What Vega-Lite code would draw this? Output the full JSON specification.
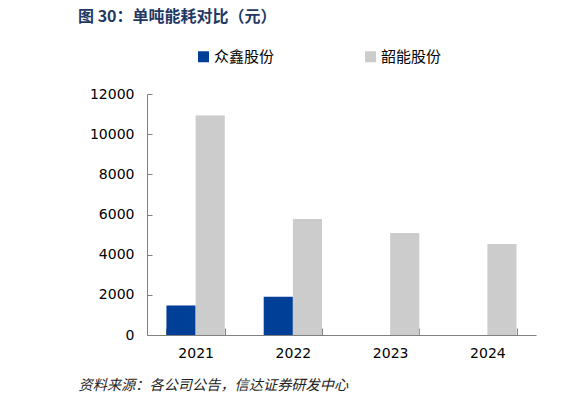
{
  "$schema": "https://vega.github.io/schema/vega-lite/v6.json",
  "background": "white",
  "autosize": {"type": "none"},
  "width": 389,
  "height": 241,
  "padding": {"left": 147, "top": 94, "right": 46, "bottom": 70},
  "config": {
    "view": {"stroke": null},
    "font": "Noto Sans CJK SC"
  },
  "title": {
    "text": "图 30：单吨能耗对比（元）",
    "anchor": "start",
    "frame": "group",
    "dx": -69,
    "dy": -20,
    "fontSize": 16,
    "fontWeight": "bold",
    "color": "#1F3864",
    "font": "Noto Sans CJK SC"
  },
  "data": {
    "values": [
      {"year": "2021", "company": "众鑫股份", "cost": 1470},
      {"year": "2021", "company": "韶能股份", "cost": 10930},
      {"year": "2022", "company": "众鑫股份", "cost": 1900},
      {"year": "2022", "company": "韶能股份", "cost": 5780},
      {"year": "2023", "company": "韶能股份", "cost": 5080},
      {"year": "2024", "company": "韶能股份", "cost": 4530}
    ]
  },
  "mark": {"type": "bar"},
  "encoding": {
    "x": {
      "field": "year",
      "type": "nominal",
      "scale": {"domain": ["2021", "2022", "2023", "2024"], "paddingInner": 0.4, "paddingOuter": 0.2},
      "axis": {
        "title": "资料来源：各公司公告，信达证券研发中心",
        "titleFont": "Noto Sans CJK SC",
        "titleFontStyle": "italic",
        "titleFontWeight": "normal",
        "titleFontSize": 14.2,
        "titleColor": "#222222",
        "titleAnchor": null,
        "titleAlign": "left",
        "titleX": -69,
        "titleY": 43,
        "labelAngle": 0,
        "labelFont": "DejaVu Sans",
        "labelFontSize": 14,
        "labelColor": "#000000",
        "labelPadding": 18,
        "tickBand": "extent",
        "tickSize": -7,
        "domainColor": "#808080",
        "tickColor": "#808080"
      }
    },
    "xOffset": {
      "field": "company",
      "type": "nominal",
      "scale": {"domain": ["众鑫股份", "韶能股份"], "paddingInner": 0, "paddingOuter": 0}
    },
    "y": {
      "field": "cost",
      "type": "quantitative",
      "scale": {"domain": [0, 12000], "nice": false},
      "axis": {
        "title": null,
        "values": [0, 2000, 4000, 6000, 8000, 10000, 12000],
        "format": "d",
        "grid": false,
        "labelFont": "DejaVu Sans",
        "labelFontSize": 14,
        "labelColor": "#000000",
        "labelPadding": 18,
        "tickSize": -5,
        "domainColor": "#808080",
        "tickColor": "#808080"
      }
    },
    "color": {
      "field": "company",
      "type": "nominal",
      "scale": {"domain": ["众鑫股份", "韶能股份"], "range": ["#003F98", "#CCCCCC"]},
      "legend": {
        "title": null,
        "orient": "none",
        "direction": "horizontal",
        "legendX": 49,
        "legendY": -45,
        "symbolType": "square",
        "symbolSize": 121,
        "symbolStrokeWidth": 0,
        "symbolOpacity": 1,
        "labelFont": "Noto Sans CJK SC",
        "labelFontSize": 15,
        "labelColor": "#000000",
        "labelOffset": 3,
        "columnPadding": 88
      }
    }
  }
}
